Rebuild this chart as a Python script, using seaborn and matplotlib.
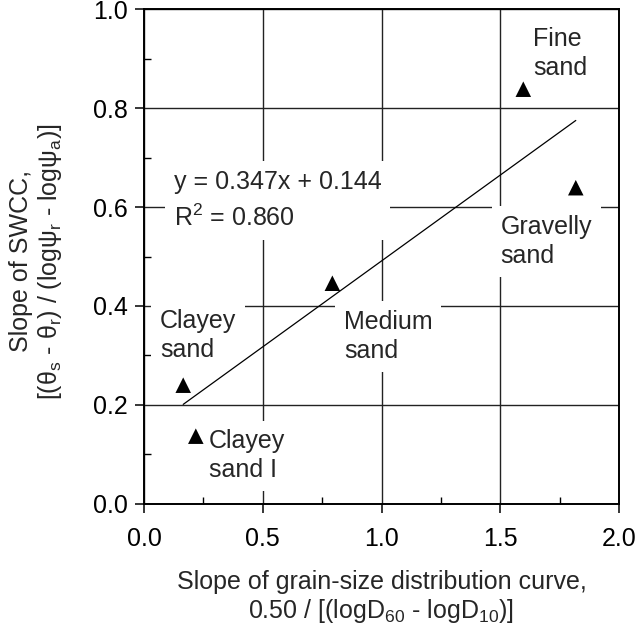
import matplotlib
matplotlib.use("Agg")
import matplotlib.pyplot as plt
from matplotlib.ticker import MultipleLocator
import seaborn as sns
import pandas as pd
import numpy as np

# ---- data ----
soil_names = ["Clayey sand", "Clayey sand I", "Medium sand", "Fine sand", "Gravelly sand"]
gsd_slope = [0.165, 0.218, 0.793, 1.597, 1.818]
swcc_slope = [0.240, 0.137, 0.446, 0.838, 0.639]
fit_slope = 0.347
fit_intercept = 0.144
fit_r2 = 0.860
label_texts = ["Clayey\nsand", "Clayey\nsand I", "Medium\nsand", "Fine\nsand", "Gravelly\nsand"]

sns.set_theme(style="ticks")
plt.rcParams["font.family"] = ["Liberation Sans", "DejaVu Sans"]
plt.rcParams["mathtext.fontset"] = "custom"
plt.rcParams["mathtext.rm"] = "Liberation Sans"
plt.rcParams["mathtext.it"] = "Liberation Sans"
plt.rcParams["mathtext.bf"] = "Liberation Sans:bold"

FS = 18

df = pd.DataFrame({"x": gsd_slope, "y": swcc_slope, "soil": soil_names})
xfit = np.array([min(gsd_slope), max(gsd_slope)])
fit_df = pd.DataFrame({"x": xfit, "y": fit_slope * xfit + fit_intercept})

fig = plt.figure(figsize=(6.39, 6.31), dpi=100)
ax = fig.add_axes([0.2254, 0.2013, 0.9687 - 0.2254, 0.9857 - 0.2013])

sns.lineplot(data=fit_df, x="x", y="y", ax=ax, color="black", linewidth=0.9, zorder=4)
sns.scatterplot(data=df, x="x", y="y", ax=ax, marker="^", s=125, color="black",
                edgecolor="none", linewidth=0, zorder=5)

ax.set_xlim(0, 2.0)
ax.set_ylim(0, 1.0)
ax.xaxis.set_major_locator(MultipleLocator(0.5))
ax.xaxis.set_minor_locator(MultipleLocator(0.25))
ax.yaxis.set_major_locator(MultipleLocator(0.2))
ax.yaxis.set_minor_locator(MultipleLocator(0.1))
ax.xaxis.set_major_formatter(matplotlib.ticker.FormatStrFormatter("%.1f"))
ax.yaxis.set_major_formatter(matplotlib.ticker.FormatStrFormatter("%.1f"))

ax.grid(True, which="major", color="#222222", linewidth=1.0)
ax.set_axisbelow(True)
for sp in ax.spines.values():
    sp.set_visible(True)
    sp.set_linewidth(1.4)
    sp.set_color("black")

ax.tick_params(axis="both", which="major", direction="out", length=6.5, width=1.1,
               labelsize=FS, colors="black")
ax.tick_params(axis="x", which="major", pad=10)
ax.tick_params(axis="y", which="major", pad=5)
ax.tick_params(axis="both", which="minor", direction="in", length=5, width=1.0, colors="black")

ax.set_xlabel("Slope of grain-size distribution curve,\n0.50 / [(logD$_{60}$ - logD$_{10}$)]",
              fontsize=FS, linespacing=1.15)
ax.set_ylabel("Slope of SWCC,\n[(θ$_\\mathrm{s}$ - θ$_\\mathrm{r}$) / (logψ$_\\mathrm{r}$ - logψ$_\\mathrm{a}$)]",
              fontsize=FS, linespacing=1.15)
ax.yaxis.set_label_coords(-0.168, 0.49)
ax.xaxis.labelpad = 14

box = dict(boxstyle="square,pad=0.35", facecolor="white", edgecolor="none")
label_pos = [(0.067, 0.297), (0.274, 0.0545), (0.842, 0.295), (1.638, 0.867), (1.502, 0.487)]
for txt, (lx, ly) in zip(label_texts, label_pos):
    ax.text(lx, ly, txt, fontsize=FS, ha="left", va="baseline", bbox=box, zorder=3,
            linespacing=1.25)

ax.text(0.126, 0.562, f"y = {fit_slope:.3f}x + {fit_intercept:.3f}\nR$^2$ = {fit_r2:.3f}",
        fontsize=FS, ha="left", va="baseline", bbox=box, zorder=3, linespacing=1.5)

fig.savefig("out.png", dpi=100)
